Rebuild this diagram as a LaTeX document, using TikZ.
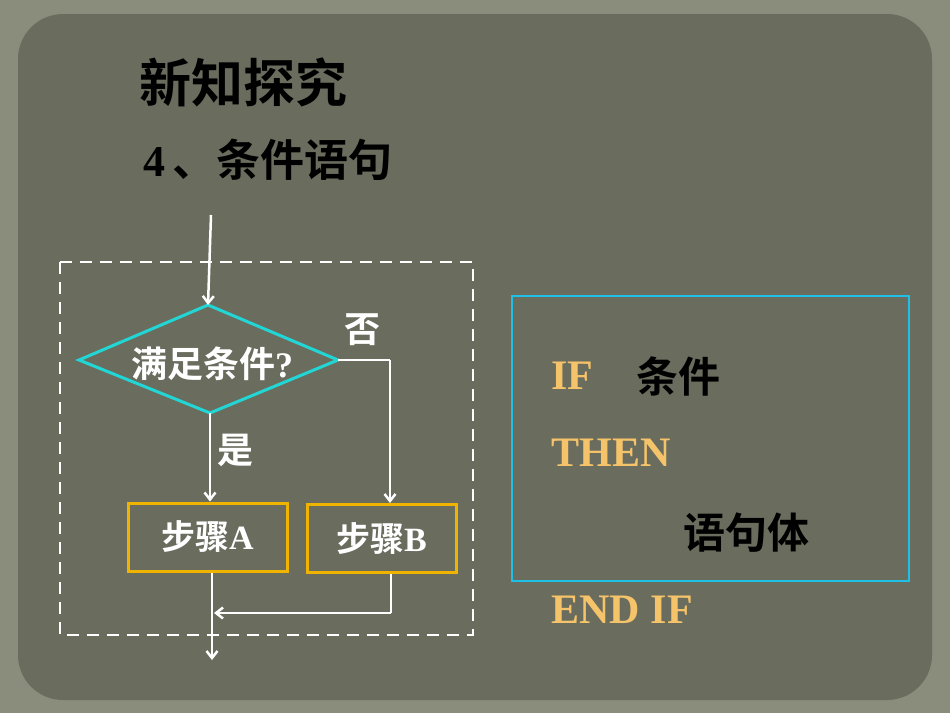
\documentclass[tikz,border=0pt]{standalone}
\usepackage{fontspec}
\setmainfont{Liberation Serif}
\newfontfamily\cjk{Noto Sans CJK SC}[BoldFont={Noto Sans CJK SC Bold}]
\usetikzlibrary{arrows.meta}
\definecolor{outerbg}{HTML}{8A8D7C}
\definecolor{innerbg}{HTML}{6A6C5E}
\definecolor{cyanl}{HTML}{22D6D6}
\definecolor{cyanb}{HTML}{1EC0E8}
\definecolor{goldb}{HTML}{F0B400}
\definecolor{goldt}{HTML}{F5C36A}
\begin{document}
\begin{tikzpicture}[x=1pt,y=-1pt,
  wl/.style={draw=white,line width=2.5pt},
  arr/.style={wl,-{Straight Barb[length=7pt,width=11pt]}},
  stepbox/.style={draw=goldb,line width=3pt,minimum width=159pt,minimum height=68pt,text=white,font=\bfseries\fontsize{34}{36}\selectfont},
  wt/.style={text=white,font=\cjk\bfseries\fontsize{36}{38}\selectfont},
  code/.style={text=goldt,font=\bfseries\fontsize{42}{46}\selectfont,anchor=west},
  codecn/.style={text=black,font=\cjk\bfseries\fontsize{42}{46}\selectfont}]
\fill[outerbg] (0,0) rectangle (950,713);
\fill[innerbg,rounded corners=45pt] (18,14) rectangle (932,700);
\node[font=\cjk\bfseries\fontsize{52}{56}\selectfont] (title) at (243,82) {新知探究};
\node[font=\bfseries\fontsize{44}{48}\selectfont,anchor=west] (sub) at (140,160) {4\,{\cjk 、条件语句}};
\draw[white,dashed,line width=2.5pt,dash pattern=on 12pt off 8pt] (60,262) rectangle (473,635);
\coordinate (top) at (211,215);
\draw[cyanl,line width=3pt] (79,360) coordinate (dl) -- (208,305) coordinate (dt) -- (338,360) coordinate (dr) -- (210,413) coordinate (db) -- cycle;
\node[wt] (cond) at (212,364) {满足条件{\rmfamily ?}};
\draw[arr] (top) -- (dt);
\node[wt] (no) at (362,330) {否};
\node[wt] (yes) at (235,450) {是};
\node[stepbox,minimum width=159pt] (a) at (207.5,537) {{\cjk 步骤}A};
\node[stepbox,minimum width=149pt] (b) at (381.5,538.5) {{\cjk 步骤}B};
\draw[wl] (dr) -- (390,360) coordinate (c1);
\draw[arr] (c1) -- (b.north -| c1);
\draw[arr] (db) -- (a.north -| db);
\coordinate (out) at (212,660);
\draw[arr] (a.south -| out) -- (out);
\coordinate (m) at (391,613);
\draw[wl] (b.south -| m) -- (m);
\draw[arr] (m) -- (214,613);
\draw[cyanb,line width=2.5pt] (512,296) rectangle (909,581);
\node[code] (if) at (548,376) {IF};
\node[codecn] (cd) at (678,376) {条件};
\node[code] (then) at (548,453) {THEN};
\node[codecn] (body) at (746,533) {语句体};
\node[code] (endif) at (548,610) {END IF};
\end{tikzpicture}
\end{document}
